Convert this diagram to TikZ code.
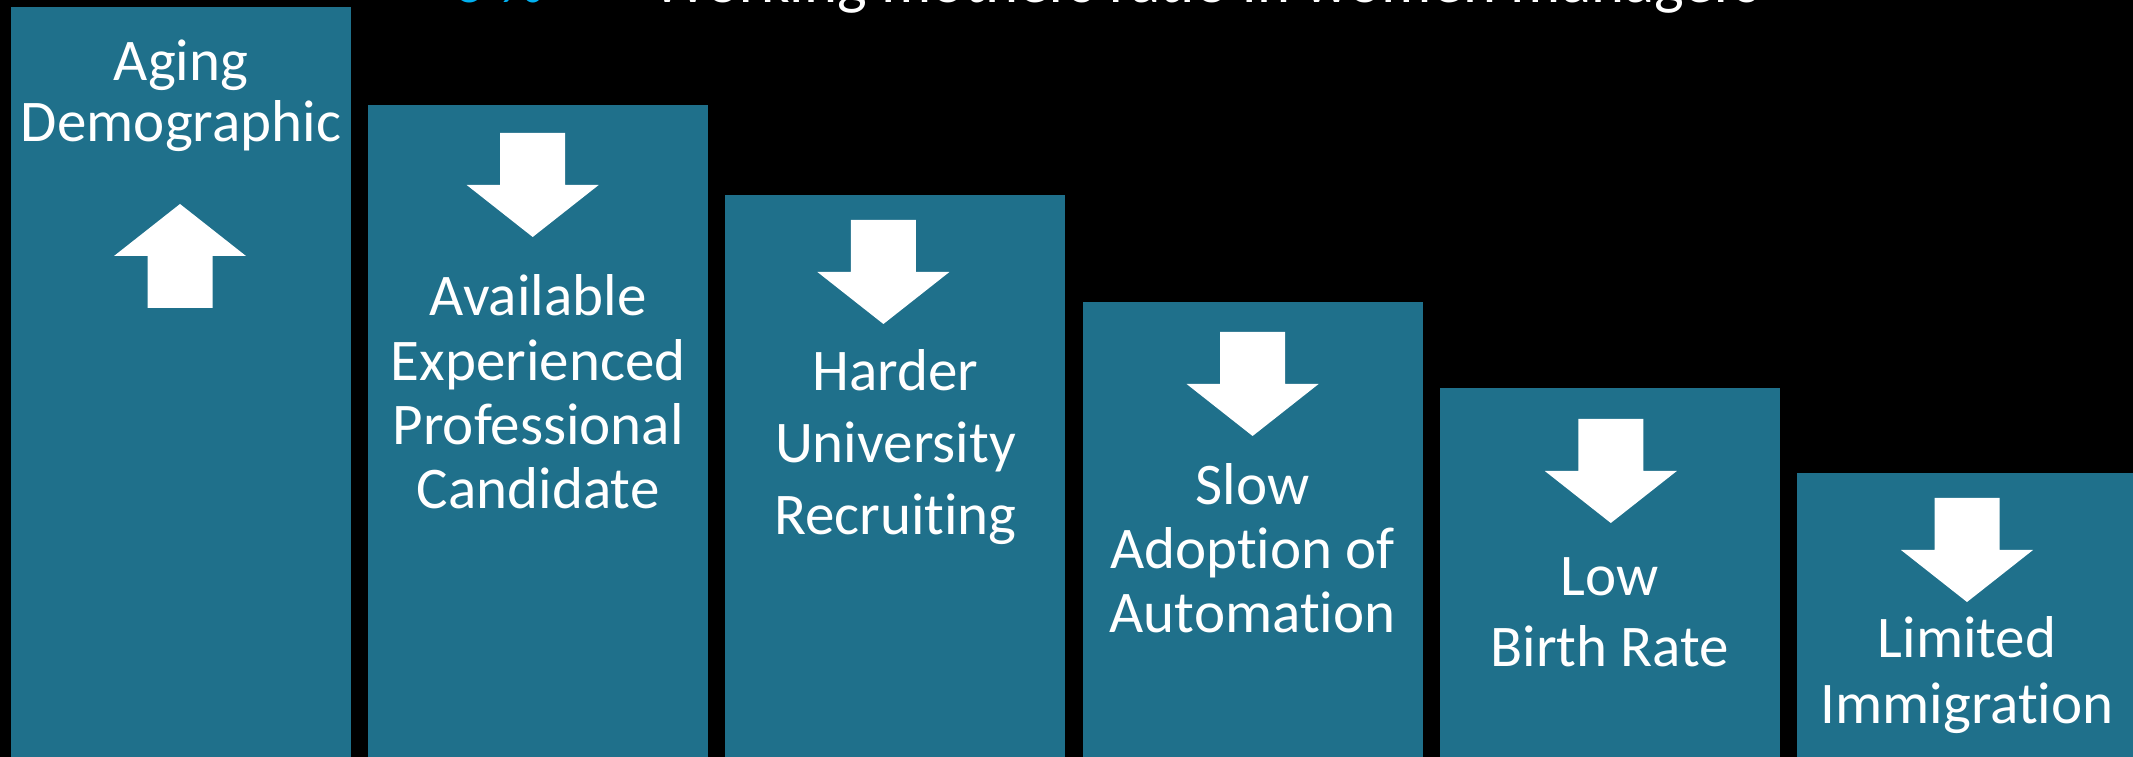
\documentclass[tikz,border=0pt]{standalone}
\usepackage{fontspec}
\setmainfont{Carlito}[Ligatures=NoCommon]
\usetikzlibrary{positioning}
\definecolor{barblue}{RGB}{31,112,139}
\definecolor{titleblue}{RGB}{0,176,240}

\begin{document}
\begin{tikzpicture}[x=1mm,y=1mm,
      bar/.style={rectangle,fill=barblue,anchor=north west,inner sep=0pt,outer sep=0pt,minimum width=34mm,minimum height=80mm},
      caption/.style={text=white,align=center,inner sep=0pt,anchor=base,font=\fontsize{16.8}{#1}\selectfont},
      caption/.default=18.4,
      heading/.style={anchor=base west,inner sep=0pt,font=\fontsize{17.9}{20}\selectfont},
      fall/.pic={\fill[white] (-3.25,0) -- (3.25,0) -- (3.25,-5.2) -- (6.6,-5.2) -- (0,-10.4) -- (-6.6,-5.2) -- (-3.25,-5.2) -- cycle;}]
      \useasboundingbox (0,0) rectangle (213.3,-75.7);
      \clip (0,0) rectangle (213.3,-75.7);
      \fill[black] (0,0) rectangle (213.3,-75.7);

      \node[heading,text=titleblue] (mark)  at (45.3,-0.3) {6 \%};
      \node[heading,text=white]     (title) at (65.2,-0.3) {Working mothers ratio in women managers};

      \node[bar] (bar1) at (1.1,-0.7) {};
      \node[bar] (bar2) [below right=9.8mm and 1.72mm of bar1.north east] {};
      \node[bar] (bar3) [below right=9.0mm and 1.72mm of bar2.north east] {};
      \node[bar] (bar4) [below right=10.7mm and 1.72mm of bar3.north east] {};
      \node[bar] (bar5) [below right=8.6mm and 1.72mm of bar4.north east] {};
      \node[bar] (bar6) [below right=8.5mm and 1.72mm of bar5.north east] {};

      % base anchor sits on the last line
      \node[caption=17.6]  (aging)   at ([yshift=-13.5mm]bar1.north) {Aging\\Demographic};
      \node[caption=18.35] (avail)   at ([yshift=-40.4mm]bar2.north) {Available\\Experienced\\Professional\\Candidate};
      \node[caption=20.6]  (harder)  at ([yshift=-34.0mm]bar3.north) {Harder\\University\\Recruiting};
      \node[caption=18.35] (slow)    at ([yshift=-33.1mm]bar4.north) {Slow\\Adoption of\\Automation};
      \node[caption=20.2]  (birth)   at ([yshift=-27.8mm]bar5.north) {Low\\Birth Rate};
      \node[caption=18.5]  (immig)   at ([yshift=-25.0mm]bar6.north) {Limited\\Immigration};

      \pic[rotate=180] at ([xshift=-0.1mm,yshift=-30.1mm]bar1.north) {fall};
      \pic at ([xshift=-0.55mm,yshift=-2.8mm]bar2.north) {fall};
      \pic at ([xshift=-1.2mm,yshift=-2.5mm]bar3.north) {fall};
      \pic at ([yshift=-3.0mm]bar4.north) {fall};
      \pic at ([xshift=0.1mm,yshift=-3.1mm]bar5.north) {fall};
      \pic at ([yshift=-2.5mm]bar6.north) {fall};
\end{tikzpicture}
\end{document}
